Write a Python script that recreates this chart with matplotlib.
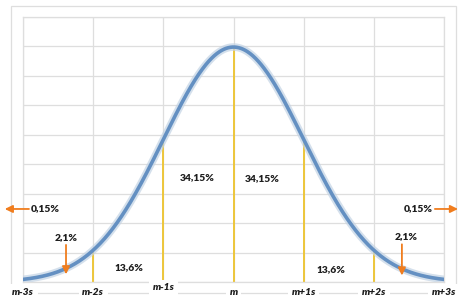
import numpy as np
import matplotlib
matplotlib.use("Agg")
import matplotlib.pyplot as plt
from matplotlib.patches import Rectangle

# ---- data ----
mean = 0.0
sd = 1.0
sigma_steps = [-3, -2, -1, 0, 1, 2, 3]
tick_labels = ["m-3s", "m-2s", "m-1s", "m", "m+1s", "m+2s", "m+3s"]
yellow_steps = [-2, -1, 0, 1, 2]
region_labels = ["0,15%", "2,1%", "13,6%", "34,15%", "34,15%", "13,6%", "2,1%", "0,15%"]

W, H = 474, 301
fig = plt.figure(figsize=(W / 100, H / 100), dpi=100)
fig.patch.set_facecolor("white")

def px_x(p):
    return p / W

def px_y(p):
    return 1 - p / H

ax = fig.add_axes([px_x(23), px_y(282), (444 - 23) / W, (282 - 17) / H])
ax.set_xlim(-3, 3)
ax.set_ylim(0, 0.45)
grid_c = "#DEDEDE"
ax.set_xticks(sigma_steps)
ax.set_yticks(np.arange(0, 0.451, 0.05))
ax.grid(True, color=grid_c, lw=0.9)
ax.tick_params(length=0, labelbottom=False, labelleft=False)
for s in ax.spines.values():
    s.set_color(grid_c)
    s.set_linewidth(0.9)
ax.set_axisbelow(True)

# outer frame
ax.add_patch(Rectangle((px_x(11), px_y(293)), (456 - 11) / W, (293 - 6) / H,
                       transform=fig.transFigure, fill=False, ec=grid_c, lw=0.9,
                       clip_on=False, zorder=0.5))

# curve
x = np.linspace(mean - 3 * sd, mean + 3 * sd, 600)
pdf = lambda v: np.exp(-0.5 * ((v - mean) / sd) ** 2) / (sd * np.sqrt(2 * np.pi))
y = pdf(x)

# yellow lines
for s in yellow_steps:
    ax.plot([s, s], [0, pdf(s)], color="#EDC63A", lw=1.4, zorder=2, solid_capstyle="butt")

ax.plot(x, y, color="#C3D3E4", lw=5.5, alpha=0.7, zorder=3, solid_capstyle="round")
ax.plot(x, y, color="#6490C2", lw=2.6, zorder=4, solid_capstyle="round")

FONT = ["Lato", "DejaVu Sans"]

# tick labels (white boxes interrupt lines)
label_y = [-0.017, -0.017, -0.010, -0.017, -0.018, -0.018, -0.017]
for s, lab, ly in zip(sigma_steps, tick_labels, label_y):
    ax.text(s, ly, lab, ha="center", va="center", fontsize=7.4, fontweight="heavy",
            style="italic", family=FONT, color="#1E1E1E",
            bbox=dict(boxstyle="square,pad=0.35", fc="white", ec="none"),
            clip_on=False, zorder=6)

# region labels
region_pos = [(-2.69, 0.124), (-2.38, 0.076), (-1.49, 0.025), (-0.52, 0.178),
              (0.406, 0.175), (1.39, 0.022), (2.458, 0.078), (2.64, 0.124)]
for (tx, ty), lab in zip(region_pos, region_labels):
    ax.text(tx, ty, lab, ha="center", va="center", fontsize=7.4, fontweight="heavy",
            family=FONT, color="#1E1E1E", zorder=6)

orange = "#F07D1E"
arrows = [((-2.915, 0.124), (-3.26, 0.124)),
          ((2.87, 0.124), (3.20, 0.124)),
          ((-2.387, 0.063), (-2.387, 0.013)),
          ((2.40, 0.064), (2.40, 0.011))]
for (x0, y0), (x1, y1) in arrows:
    ax.annotate("", xy=(x1, y1), xytext=(x0, y0),
                arrowprops=dict(arrowstyle="-|>,head_length=0.45,head_width=0.22",
                                color=orange, lw=1.3, shrinkA=0, shrinkB=0),
                annotation_clip=False, zorder=7)

fig.savefig("out.png", dpi=100, facecolor="white")
